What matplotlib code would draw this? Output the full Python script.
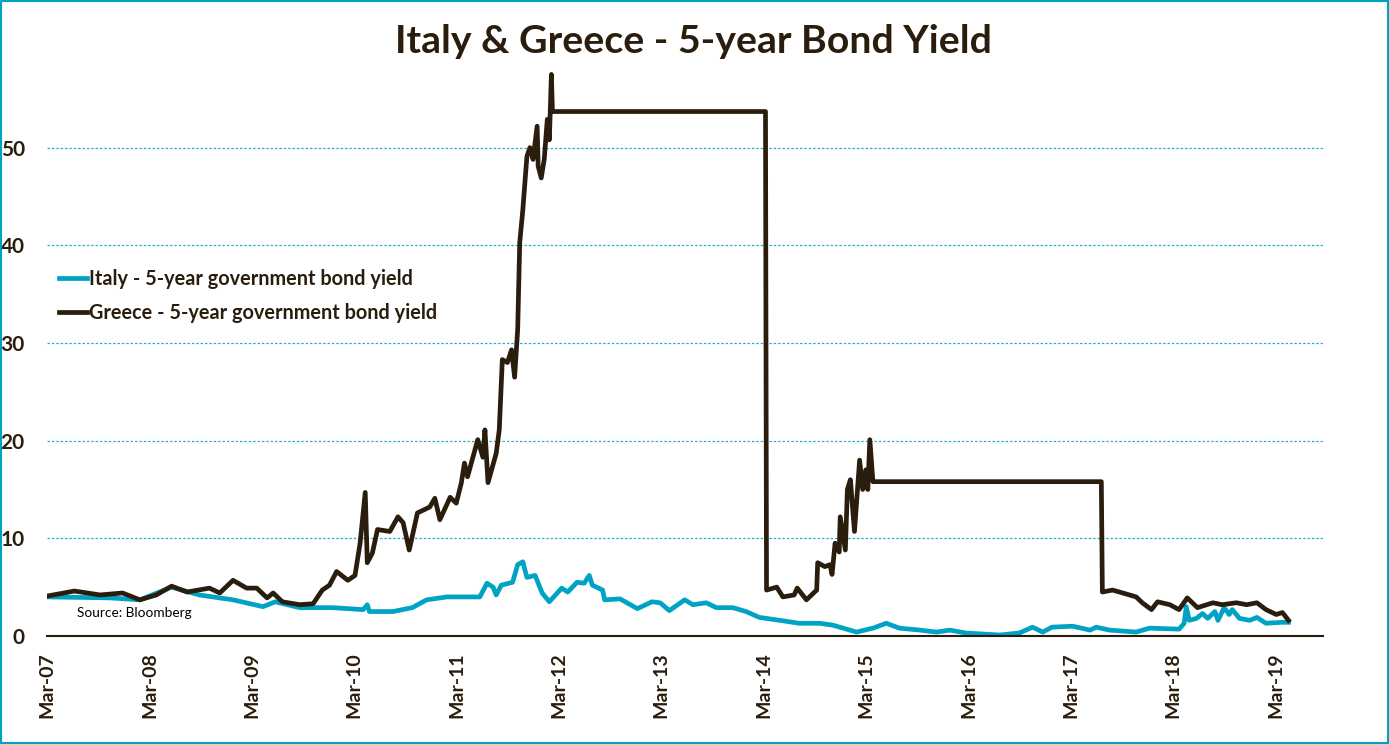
import matplotlib
matplotlib.use("Agg")
import matplotlib.pyplot as plt
import matplotlib.dates as mdates
import pandas as pd
from matplotlib.patches import Rectangle

plt.rcParams['font.family'] = ['Lato', 'DejaVu Sans']

# decimal-year positions
greece_t = [2007.17, 2007.43, 2007.68, 2007.90, 2008.07, 2008.23, 2008.38, 2008.53, 2008.75, 2008.85,
            2008.98, 2009.11, 2009.21, 2009.31, 2009.37, 2009.46, 2009.63, 2009.76, 2009.85, 2009.92,
            2009.99, 2010.10, 2010.17, 2010.22, 2010.27, 2010.29, 2010.34, 2010.39, 2010.51, 2010.59,
            2010.64, 2010.70, 2010.78, 2010.90, 2010.95, 2011.00, 2011.10, 2011.16, 2011.21, 2011.24,
            2011.27, 2011.37, 2011.42, 2011.44, 2011.47, 2011.55, 2011.58, 2011.61, 2011.66, 2011.70,
            2011.73, 2011.76, 2011.78, 2011.81, 2011.85, 2011.88, 2011.91, 2011.95, 2011.96, 2011.99,
            2012.02, 2012.05, 2012.07, 2012.09, 2012.10, 2014.18, 2014.19, 2014.29, 2014.35, 2014.46,
            2014.49, 2014.58, 2014.68, 2014.69, 2014.76, 2014.81, 2014.83, 2014.86, 2014.90, 2014.91,
            2014.96, 2014.98, 2015.01, 2015.05, 2015.10, 2015.13, 2015.16, 2015.18, 2015.20, 2015.23,
            2017.46, 2017.47, 2017.57, 2017.67, 2017.80, 2017.86, 2017.95, 2018.01, 2018.13, 2018.22,
            2018.30, 2018.40, 2018.55, 2018.64, 2018.78, 2018.88, 2018.98, 2019.07, 2019.17, 2019.23,
            2019.29]
greece_y = [4.1, 4.6, 4.2, 4.4, 3.7, 4.2, 5.1, 4.5, 4.9, 4.4,
            5.7, 4.9, 4.9, 3.9, 4.4, 3.5, 3.2, 3.3, 4.7, 5.2,
            6.6, 5.7, 6.2, 9.5, 14.7, 7.5, 8.5, 10.9, 10.7, 12.2,
            11.6, 8.8, 12.6, 13.2, 14.1, 11.9, 14.2, 13.6, 15.7, 17.7,
            16.3, 20.1, 18.3, 21.1, 15.7, 18.7, 21.1, 28.3, 28.0, 29.3,
            26.5, 31.4, 40.3, 43.6, 49.1, 50.0, 48.8, 52.2, 48.1, 46.9,
            48.8, 52.9, 50.8, 57.5, 53.7, 53.7, 4.7, 5.0, 4.0, 4.2,
            4.9, 3.7, 4.7, 7.5, 7.1, 7.3, 6.3, 9.5, 8.6, 12.2,
            8.8, 15.0, 16.0, 10.7, 18.0, 15.0, 17.0, 15.0, 20.1, 15.8,
            15.8, 4.5, 4.7, 4.4, 4.0, 3.4, 2.7, 3.5, 3.2, 2.7,
            3.9, 2.9, 3.4, 3.2, 3.4, 3.2, 3.4, 2.7, 2.2, 2.4,
            1.6]

italy_t = [2007.17, 2007.78, 2008.07, 2008.38, 2008.65, 2008.98, 2009.27, 2009.39, 2009.63, 2009.95,
           2010.25, 2010.29, 2010.31, 2010.54, 2010.73, 2010.87, 2011.07, 2011.29, 2011.39, 2011.46,
           2011.52, 2011.55, 2011.60, 2011.71, 2011.76, 2011.81, 2011.85, 2011.93, 2012.00, 2012.07,
           2012.19, 2012.25, 2012.34, 2012.41, 2012.46, 2012.49, 2012.59, 2012.61, 2012.76, 2012.93,
           2013.07, 2013.15, 2013.24, 2013.39, 2013.47, 2013.60, 2013.70, 2013.86, 2013.99, 2014.12,
           2014.32, 2014.51, 2014.71, 2014.84, 2015.07, 2015.23, 2015.36, 2015.49, 2015.69, 2015.85,
           2015.98, 2016.14, 2016.47, 2016.66, 2016.79, 2016.89, 2016.98, 2017.18, 2017.35, 2017.41,
           2017.54, 2017.80, 2017.93, 2018.22, 2018.27, 2018.29, 2018.32, 2018.39, 2018.45, 2018.50,
           2018.57, 2018.60, 2018.66, 2018.71, 2018.74, 2018.81, 2018.91, 2018.98, 2019.07, 2019.23,
           2019.29]
italy_y = [4.0, 3.9, 3.7, 5.0, 4.2, 3.7, 3.0, 3.5, 2.9, 2.9,
           2.7, 3.2, 2.5, 2.5, 2.9, 3.7, 4.0, 4.0, 4.0, 5.4,
           5.0, 4.2, 5.2, 5.5, 7.3, 7.6, 6.0, 6.2, 4.4, 3.5,
           4.9, 4.5, 5.5, 5.4, 6.2, 5.2, 4.7, 3.7, 3.8, 2.8,
           3.5, 3.4, 2.6, 3.7, 3.2, 3.4, 2.9, 2.9, 2.5, 1.9,
           1.6, 1.3, 1.3, 1.1, 0.4, 0.8, 1.3, 0.8, 0.6, 0.4,
           0.6, 0.3, 0.1, 0.3, 0.9, 0.4, 0.9, 1.0, 0.6, 0.9,
           0.6, 0.4, 0.8, 0.7, 1.3, 3.0, 1.6, 1.8, 2.3, 1.8,
           2.5, 1.6, 2.9, 2.2, 2.7, 1.8, 1.6, 1.9, 1.3, 1.4,
           1.4]

labels = ['Italy - 5-year government bond yield', 'Greece - 5-year government bond yield']
title = 'Italy & Greece - 5-year Bond Yield'
source = 'Source: Bloomberg'


def to_date(y):
    yr = int(y)
    return pd.Timestamp(year=yr, month=1, day=1) + pd.Timedelta(days=(y - yr) * 365.25)


dark = '#2b1d0e'
cyan = '#00a3c4'

fig = plt.figure(figsize=(13.89, 7.44), dpi=100)
ax = fig.add_axes([0.0338, 0.1452, 0.9187, 0.7876])

ax.plot([to_date(t) for t in italy_t], italy_y, color=cyan, lw=3.4, label=labels[0])
ax.plot([to_date(t) for t in greece_t], greece_y, color=dark, lw=3.4, label=labels[1])

ax.set_ylim(0, 60)
ax.set_yticks([0, 10, 20, 30, 40, 50])
ax.set_xlim(pd.Timestamp('2007-03-01'), pd.Timestamp('2019-08-18'))
ax.set_xticks([pd.Timestamp(f'{y}-03-01') for y in range(2007, 2020)])
ax.xaxis.set_major_formatter(mdates.DateFormatter('%b-%y'))

ax.grid(axis='y', color='#2ab0cc', linestyle=(0, (2, 1.5)), lw=0.9)
ax.set_axisbelow(True)
for s in ['top', 'right', 'left']:
    ax.spines[s].set_visible(False)
ax.spines['bottom'].set_color(dark)
ax.spines['bottom'].set_linewidth(1.5)

ax.tick_params(axis='both', length=0, colors=dark, labelsize=14)
ax.tick_params(axis='y', pad=16, labelsize=15)
ax.tick_params(axis='x', pad=12)
for lab in ax.get_xticklabels():
    lab.set_rotation(90)
    lab.set_fontweight('bold')
for lab in ax.get_yticklabels():
    lab.set_fontweight('bold')

leg = ax.legend(loc='upper left', bbox_to_anchor=(0.003, 0.64), frameon=False,
                prop={'size': 14.3, 'weight': 'bold'}, handlelength=1.4, handletextpad=0.12,
                labelspacing=0.7, borderaxespad=0)
for t in leg.get_texts():
    t.set_color(dark)

ax.text(0.0235, 0.033, source, transform=ax.transAxes, fontsize=9.8, color='black')

fig.text(0.499, 0.944, title, ha='center', va='center', fontsize=28.3, fontweight='bold', color=dark)

fig.patches.append(Rectangle((0.0007, 0.001), 0.9986, 0.997, transform=fig.transFigure,
                             fill=False, edgecolor=cyan, lw=1.5))

fig.savefig('out.png', dpi=100)
